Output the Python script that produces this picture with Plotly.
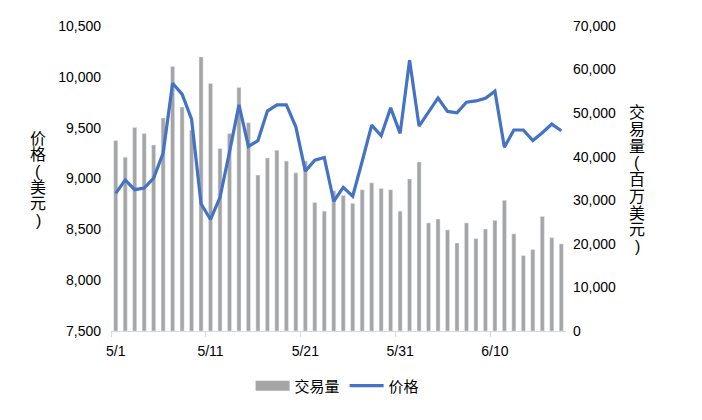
import pandas as pd
import plotly.graph_objects as go

# daily data, 5/1 - 6/17
dates = pd.date_range("2021-05-01", "2021-06-17", freq="D")

volume = [43700, 39900, 46700, 45300, 42700, 48900, 60700, 51400, 46100, 62900,
          56800, 41900, 45300, 55900, 47800, 35800, 39700, 41500, 39000, 36300,
          39000, 29500, 27500, 32200, 31100, 29300, 32400, 34000, 32700, 32400,
          27500, 34900, 38800, 24800, 25700, 23200, 20200, 24800, 21200, 23400,
          25400, 30000, 22300, 17300, 18700, 26300, 21400, 20000]

price = [8854, 8986, 8890, 8906, 9003, 9250, 9937, 9830, 9583, 8751,
         8597, 8815, 9260, 9724, 9315, 9373, 9663, 9724, 9724, 9508,
         9073, 9180, 9206, 8776, 8912, 8825, 9170, 9525, 9421, 9695,
         9444, 10163, 9515, 9647, 9792, 9660, 9647, 9750, 9763, 9789,
         9859, 9308, 9477, 9477, 9373, 9450, 9535, 9470]

tick_dates = ["2021-05-01", "2021-05-11", "2021-05-21", "2021-05-31", "2021-06-10"]
tick_text = ["5/1", "5/11", "5/21", "5/31", "6/10"]

left_title = "价格(美元)"
right_title = "交易量(百万美元)"

FONT = "Liberation Sans, Arial, Noto Sans CJK SC"
BAR_COLOR = "#A5A5A5"
LINE_COLOR = "#4472C4"

W, H = 686, 404
M = dict(l=103, r=128, t=10, b=77)

fig = go.Figure()
fig.add_trace(go.Bar(x=dates, y=volume, name="交易量", marker_color=BAR_COLOR,
                     yaxis="y", showlegend=False))
# wide legend swatch for the bars
fig.add_trace(go.Scatter(x=[None], y=[None], name="交易量", mode="lines",
                         line=dict(color=BAR_COLOR, width=10), yaxis="y"))
fig.add_trace(go.Scatter(x=dates, y=price, name="价格", mode="lines",
                         line=dict(color=LINE_COLOR, width=3.2), yaxis="y2"))

day_ms = 86400000
fig.update_layout(
    width=W, height=H,
    margin=M,
    plot_bgcolor="white", paper_bgcolor="white",
    font=dict(family=FONT, size=14, color="#000000"),
    bargap=0.57,
    showlegend=True,
    legend=dict(orientation="h", x=0.498, xanchor="center", y=-0.18, yanchor="middle",
                font=dict(size=15, color="#000000"), itemwidth=34,
                tracegroupgap=0),
    xaxis=dict(
        type="date",
        range=[pd.Timestamp("2021-04-30 12:00"), pd.Timestamp("2021-06-17 12:00")],
        tickvals=tick_dates, ticktext=tick_text, ticks="",
        showline=True, linecolor="#D9D9D9", linewidth=1, showgrid=False,
        minor=dict(ticks="outside", ticklen=5, tickcolor="#D9D9D9",
                   tick0="2021-04-30 12:00", dtick=10 * day_ms, showgrid=False),
        ticklabelstandoff=7,
        tickfont=dict(size=14, color="#000000"),
    ),
    yaxis=dict(
        side="right", range=[0, 70000], dtick=10000, tickformat=",d",
        showgrid=False, showline=False, zeroline=False, ticks="",
        ticklabelstandoff=6, tickfont=dict(size=14, color="#000000"),
    ),
    yaxis2=dict(
        overlaying="y", side="left", range=[7500, 10500], dtick=500, tickformat=",d",
        showgrid=False, showline=False, zeroline=False, ticks="",
        ticklabelstandoff=9, tickfont=dict(size=14, color="#000000"),
    ),
)

# stacked vertical axis titles, one character per annotation
plot_w = W - M["l"] - M["r"]
plot_h = H - M["t"] - M["b"]


def stacked_title(text, x_px, y0_px, step):
    for i, ch in enumerate(text):
        fig.add_annotation(text=ch, xref="paper", yref="paper",
                           x=(x_px - M["l"]) / plot_w,
                           y=1 - (y0_px + i * step - M["t"]) / plot_h,
                           xanchor="center", yanchor="middle", showarrow=False,
                           font=dict(size=16, color="#000000"))


stacked_title(left_title, 30, 127, 17)
stacked_title(right_title, 629, 100, 17.4)

fig.write_html("out.html")
